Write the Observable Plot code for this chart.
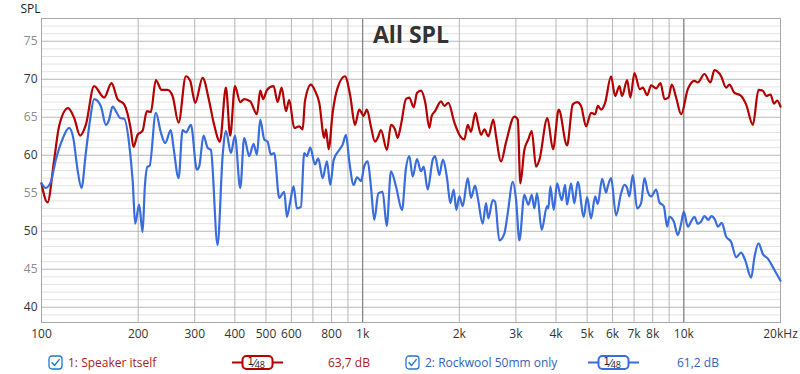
<!DOCTYPE html>
<html><head><meta charset="utf-8">
<script src="https://cdn.jsdelivr.net/npm/d3@7"></script>
<script src="https://cdn.jsdelivr.net/npm/@observablehq/plot@0.6"></script>
<style>
html,body{margin:0;padding:0;background:#fff;}
#wrap{width:800px;height:374px;position:relative;overflow:hidden;font-family:"Open Sans",sans-serif;}
#legend{position:absolute;left:0;top:348px;width:800px;height:26px;font-size:12px;}
#legend .it{position:absolute;top:0;height:26px;line-height:29px;white-space:nowrap;}
#legend svg{position:absolute;}
</style></head><body>
<div id="wrap"><div id="chart"></div><div id="legend"></div></div>
<script>
// ---- data ----
const redFreq = [
100,104.4,109.5,113.4,121.0,126.4,131.9,137.4,145.8,156.7,
165.2,172.5,180.9,189.7,193.4,199.1,206.4,212.8,219.0,227.0,
236.5,246.9,255.9,267.2,281.5,290.4,301.0,317.4,332.8,343.5,
359.4,375.2,386.9,400.2,415.7,427.8,446.6,468.6,479.8,490.2,
503.4,528.1,543.5,559.4,576.9,590.6,612.2,634.6,650.3,661.1,
690.2,710.3,732.6,759.4,768.7,783.7,806.4,835.9,880.9,915.0,
946.3,975.9,1007,1031,1061,1092,1114,1140,1190,1225,
1261,1285,1316,1364,1397,1442,1476,1519,1567,1613,
1641,1680,1754,1796,1848,1930,2014,2073,2124,2175,
2244,2283,2337,2393,2462,2552,2602,2697,2795,2968,
3041,3097,3187,3280,3361,3467,3550,3759,3915,4079,
4329,4510,4652,4787,4962,5144,5294,5398,5527,5687,
5936,6109,6301,6424,6659,6818,7018,7295,7455,7689,
7912,8201,8458,8705,8954,9176,9463,9808,10292,10789,
11056,11591,12101,12454,13067,13544,13868,14374,15006,15631,
16406,17079,17627,18050,18616,19076,19533,20000];
const redSpl = [
56.3,53.8,59.4,63.8,66.2,64.9,62.6,64.0,69.1,67.6,
69.5,67.4,66.7,63.4,61.1,62.7,63.2,65.8,65.7,69.9,
68.6,68.6,67.8,64.3,70.4,69.8,66.9,70.2,67.1,64.3,
61.8,68.9,62.6,69.1,67.0,67.4,67.1,65.4,68.5,67.4,
68.6,69.1,67.0,68.9,65.8,67.3,63.6,63.8,63.4,67.1,
69.3,68.5,66.9,62.3,63.4,60.8,65.6,68.9,70.4,67.8,
64.0,66.0,65.2,66.0,63.8,61.8,62.3,63.3,60.7,64.0,
63.4,62.3,64.0,67.4,67.6,66.3,68.2,68.5,66.9,63.6,
65.2,65.8,67.1,66.5,66.9,64.3,62.5,62.1,64.0,63.1,
65.6,64.3,62.7,63.4,62.5,64.7,62.5,59.2,61.7,65.1,
64.7,56.3,60.7,62.1,63.2,58.5,59.4,64.9,60.8,66.0,
61.3,66.7,67.0,66.5,63.8,65.6,65.4,66.5,66.0,66.9,
70.4,67.8,69.1,67.8,69.9,67.6,70.8,68.7,68.9,67.9,
69.2,68.8,69.5,67.4,67.6,69.3,67.6,65.4,68.7,69.8,
69.6,70.7,69.6,71.2,70.4,68.9,69.3,68.2,67.9,66.7,
64.0,68.6,68.5,67.8,68.0,66.8,67.2,66.4];

const blueFreq = [
100,103.1,106.9,110.8,116.2,121.9,125.8,129.5,133.2,137.4,
141.7,145.8,153.0,158.6,162.4,166.4,171.6,175.7,180.9,188.8,
192.5,195.7,201.4,206.4,209.8,213.9,217.0,227.0,235.3,242.7,
252.7,257.7,267.2,275.0,281.5,291.9,304.7,309.7,319.6,328.9,
336.8,353.4,366.4,375.2,388.9,400.2,415.7,427.8,443.4,457.6,
468.6,479.8,493.8,505.8,517.9,530.4,549.8,569.9,581.0,594.9,
609.5,624.1,642.3,657.7,670.7,686.8,710.3,727.4,750.6,774.2,
792.8,812.4,845.6,866.5,887.2,908.5,937.6,960.0,988.0,1012,
1037,1061,1087,1119,1154,1188,1225,1270,1326,1364,
1397,1432,1476,1519,1549,1594,1652,1680,1733,1776,
1831,1875,1921,1957,2000,2049,2124,2175,2238,2283,
2365,2422,2462,2541,2584,2664,2762,2830,2934,3004,
3076,3187,3280,3361,3425,3491,3610,3750,3786,3841,
3936,4030,4169,4269,4329,4455,4562,4675,4881,4998,
5144,5294,5398,5567,5728,5797,5936,6153,6378,6531,
6659,6768,6935,7154,7362,7540,7726,7912,8201,8395,
8664,8872,9019,9307,9579,9808,10000,10292,10537,10789,
11056,11320,11591,11927,12163,12517,12761,13133,13544,14040,
14550,15083,15523,16206,16594,17079,17627,18265,19148,20000];
const blueSpl = [
56.3,55.7,56.5,59.4,62.1,63.6,62.1,58.1,55.7,60.3,
64.7,67.4,66.5,64.0,64.7,66.4,65.6,64.9,64.8,60.3,
56.3,51.0,53.5,49.9,55.9,58.5,58.6,65.6,63.0,61.6,
63.3,61.0,57.0,63.3,63.0,64.0,58.1,58.5,62.6,61.0,
60.7,48.2,59.9,63.2,60.3,62.6,55.7,62.3,59.9,61.5,
60.1,64.7,62.1,61.8,60.1,60.3,54.4,55.2,51.9,53.9,
55.9,53.0,53.2,60.3,59.9,61.0,58.8,59.6,57.0,59.2,
56.1,59.4,60.7,61.4,62.7,59.2,56.1,57.1,56.6,58.6,
59.2,55.9,51.5,55.0,55.2,50.7,57.9,55.9,52.8,58.3,
59.9,57.2,59.5,57.9,58.5,55.5,59.4,59.9,57.4,59.4,
57.0,53.7,55.5,52.8,54.6,53.3,57.0,54.4,56.0,54.4,
51.0,53.7,51.7,54.1,53.9,48.8,49.7,52.4,56.5,54.1,
48.8,54.8,53.5,54.8,53.0,55.0,50.2,53.3,53.0,55.9,
52.8,56.3,54.1,56.1,53.5,56.3,53.7,56.5,51.9,54.5,
51.7,54.6,53.6,56.9,55.1,55.9,57.0,52.1,55.0,56.1,
55.7,54.6,57.4,53.0,53.7,57.0,55.2,54.6,55.5,53.8,
53.3,50.6,51.9,51.3,49.5,51.0,52.6,50.6,51.3,51.9,
51.0,51.3,52.0,51.5,52.0,51.5,50.6,51.1,49.3,48.6,
46.6,47.2,46.2,43.9,46.6,48.4,47.0,46.4,44.9,43.5];

const seriesNames = ["1: Speaker itself", "2: Rockwool 50mm only"];
const seriesLevels = ["63,7 dB", "61,2 dB"];
const seriesSmoothing = ["48", "48"];

const xTickValues = [100,200,300,400,500,600,800,1000,2000,3000,4000,5000,6000,7000,8000,10000,20000];
const xTickLabels = ["100","200","300","400","500","600","800","1k","2k","3k","4k","5k","6k","7k","8k","10k","20kHz"];
const xGridValues = [100,200,300,400,500,600,700,800,900,1000,2000,3000,4000,5000,6000,7000,8000,9000,10000,20000];
const xMajorGrid = [1000, 10000];
const yDarkTicks = [40,50,60,70];
const yLightTicks = [45,55,65,75];
const yDomain = [38, 78];
const title = "All SPL";
const yLabel = "SPL";

// ---- chart ----
const redColor = "#b30000", blueColor = "#3a6ddc";
const redData = redFreq.map((f, i) => ({f, v: redSpl[i]}));
const blueData = blueFreq.map((f, i) => ({f, v: blueSpl[i]}));
const yMinor = d3.range(yDomain[0], yDomain[1] + 1, 1);
const yMajor = yMinor.filter(d => d % 5 === 0);
const xTicks = xTickValues.map((v, i) => ({v, label: xTickLabels[i]}));

const chart = Plot.plot({
  width: 800, height: 348,
  marginLeft: 41, marginRight: 20, marginTop: 18, marginBottom: 26,
  x: {type: "log", domain: [100, 20000], axis: null},
  y: {domain: yDomain, axis: null},
  style: {fontFamily: "'Open Sans', sans-serif", fontSize: "12px", background: "#fff", overflow: "visible"},
  marks: [
    Plot.ruleY(yMinor, {stroke: "#e2e2e2", strokeWidth: 1}),
    Plot.ruleY(yMajor, {stroke: "#c2c2c2", strokeWidth: 1}),
    Plot.ruleX(xGridValues, {stroke: "#b5b5b5", strokeWidth: 1}),
    Plot.ruleX(xMajorGrid, {stroke: "#7a7a7a", strokeWidth: 1}),
    Plot.frame({stroke: "#a8a8a8"}),
    Plot.line(redData, {x: "f", y: "v", stroke: redColor, strokeWidth: 2.2, curve: "monotone-x"}),
    Plot.line(blueData, {x: "f", y: "v", stroke: blueColor, strokeWidth: 2.2, curve: "monotone-x"}),
    Plot.text(yDarkTicks, {y: d => d, text: d => String(d), frameAnchor: "left", textAnchor: "end", dx: -4, fill: "#333", fontSize: 12}),
    Plot.text(yLightTicks, {y: d => d, text: d => String(d), frameAnchor: "left", textAnchor: "end", dx: -4, fill: "#8a8a8a", fontSize: 12}),
    Plot.text(xTicks, {x: "v", text: "label", frameAnchor: "bottom", lineAnchor: "top", dy: 7, fill: "#333", fontSize: 12}),
    Plot.text([title], {text: d => d, frameAnchor: "top", lineAnchor: "top", dy: 8, fontSize: 23, fontWeight: "bold", fill: "#333"}),
    Plot.text([yLabel], {text: d => d, frameAnchor: "top-left", textAnchor: "start", lineAnchor: "bottom", dx: -21, dy: -6, fontSize: 12, fill: "#222"})
  ]
});
document.getElementById("chart").appendChild(chart);

// ---- legend ----
const legend = document.getElementById("legend");
const layout = [
  {check: 48, name: 68, sym: 232, level: 328, color: redColor, text: "#a61c1c"},
  {check: 405, name: 425, sym: 588, level: 677, color: blueColor, text: "#2f62b8"}
];
const NS = "http://www.w3.org/2000/svg";
seriesNames.forEach((name, i) => {
  const L = layout[i];
  const cb = document.createElementNS(NS, "svg");
  cb.setAttribute("width", 15); cb.setAttribute("height", 15);
  cb.style.left = L.check + "px"; cb.style.top = "7px";
  cb.innerHTML = `<rect x="1" y="1" width="13" height="13" rx="3" fill="#fff" stroke="#2675c9" stroke-width="1.3"/>
    <path d="M4 7.8 L6.6 10.4 L11.2 4.6" fill="none" stroke="#2675c9" stroke-width="1.5" stroke-linecap="round" stroke-linejoin="round"/>`;
  legend.appendChild(cb);

  const nm = document.createElement("span");
  nm.className = "it"; nm.style.left = L.name + "px"; nm.style.color = L.text;
  nm.textContent = name;
  legend.appendChild(nm);

  const sy = document.createElementNS(NS, "svg");
  sy.setAttribute("width", 52); sy.setAttribute("height", 20);
  sy.style.left = L.sym + "px"; sy.style.top = "4px";
  sy.innerHTML = `<line x1="0" x2="51" y1="10.5" y2="10.5" stroke="${L.color}" stroke-width="2"/>
    <rect x="10.5" y="4" width="30" height="13" rx="4" fill="#fff" stroke="${L.color}" stroke-width="2"/>
    <text x="15.5" y="13" font-family="DejaVu Sans, sans-serif" font-size="10" fill="#222"><tspan>1</tspan><tspan font-size="11" dx="-0.5" dy="1.5">⁄</tspan><tspan font-family="Open Sans, sans-serif" font-size="9" dx="-0.5" dy="1">${seriesSmoothing[i]}</tspan></text>`;
  legend.appendChild(sy);

  const lv = document.createElement("span");
  lv.className = "it"; lv.style.left = L.level + "px"; lv.style.color = L.text;
  lv.textContent = seriesLevels[i];
  legend.appendChild(lv);
});
</script>
</body></html>
